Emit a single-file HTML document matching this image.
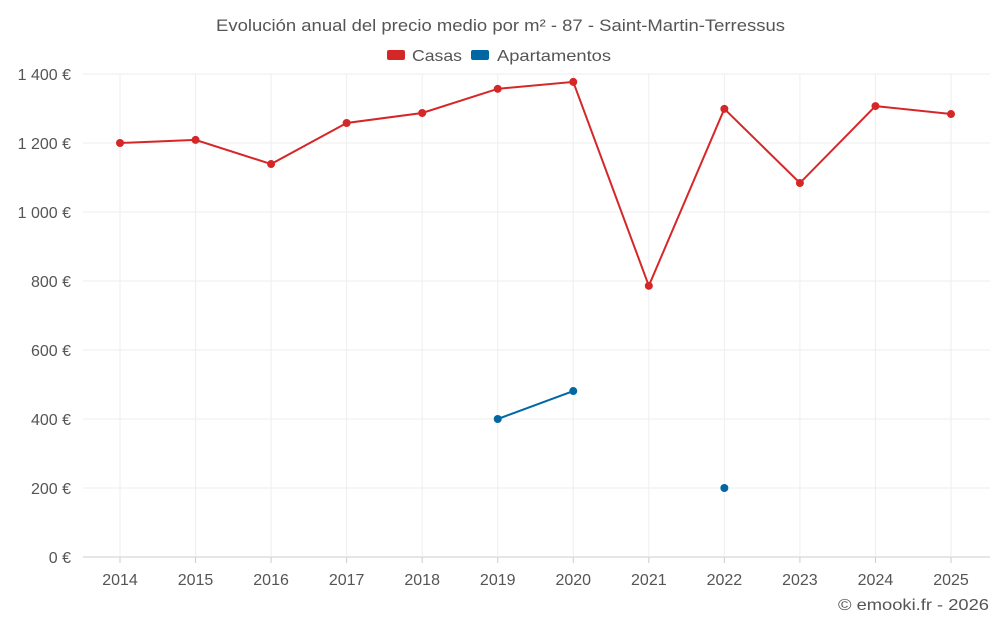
<!DOCTYPE html>
<html><head><meta charset="utf-8"><style>
body{margin:0;background:#fff;font-family:"Liberation Sans",sans-serif;}
svg text{font-family:"Liberation Sans",sans-serif;fill:#555;}
</style></head><body>
<svg id="chart" width="1000" height="625">
<text x="216" y="31" font-size="17" textLength="569" lengthAdjust="spacingAndGlyphs">Evolución anual del precio medio por m² - 87 - Saint-Martin-Terressus</text>
<g>
<g><rect x="387" y="50" width="18" height="10" rx="2" fill="#d62728"/><text x="412" y="61" font-size="16" textLength="50" lengthAdjust="spacingAndGlyphs">Casas</text></g>
<g><rect x="471" y="50" width="18" height="10" rx="2" fill="#0067a5"/><text x="497" y="61" font-size="16" textLength="114" lengthAdjust="spacingAndGlyphs">Apartamentos</text></g>
</g>
<g id="grid"></g><g id="axes"></g><g id="series"></g>
<text x="838" y="610" font-size="16" textLength="151" lengthAdjust="spacingAndGlyphs">© emooki.fr - 2026</text>
</svg>
<script>
const years=[2014,2015,2016,2017,2018,2019,2020,2021,2022,2023,2024,2025];
const casas=[1200,1209,1139,1258,1287,1357,1377,786,1299,1084,1307,1284];
const apartamentos=[null,null,null,null,null,400,481,null,200,null,null,null];
const yTicks=[0,200,400,600,800,1000,1200,1400];
const yLabels=["0 €","200 €","400 €","600 €","800 €","1 000 €","1 200 €","1 400 €"];
const NS="http://www.w3.org/2000/svg";
const x0=83,x1=990,yb=557,yt=74;
const xs=i=>120+i*(951-120)/(years.length-1);
const ys=v=>yb-(v/1400)*(yb-yt);
function mk(t,a,p){const e=document.createElementNS(NS,t);for(const k in a)e.setAttribute(k,a[k]);p.appendChild(e);return e;}
const g=document.getElementById('grid'),ax=document.getElementById('axes'),s=document.getElementById('series');
yTicks.forEach((v,i)=>{
 const l=mk('line',{x1:x0,x2:x1,y1:ys(v),y2:ys(v),stroke:i==0?'#ccc':'#eee'},g);
 
 
 const t=mk('text',{x:71,y:ys(v)+6,'text-anchor':'end','font-size':16},ax);t.textContent=yLabels[i];
 
 
});
years.forEach((y,i)=>{
 const l=mk('line',{x1:xs(i),x2:xs(i),y1:yt,y2:yb,stroke:'#eee'},g);
 
 
 const k=mk('line',{x1:xs(i),x2:xs(i),y1:yb,y2:yb+6,stroke:'#ccc'},ax);
 
 
 const t=mk('text',{x:xs(i),y:585,'text-anchor':'middle','font-size':16},ax);t.textContent=y;
 
 
});
function draw(data,color,name){
 let seg=[];const segs=[];
 data.forEach((v,i)=>{if(v==null){if(seg.length)segs.push(seg);seg=[];}else seg.push([xs(i),ys(v)]);});
 if(seg.length)segs.push(seg);
 segs.forEach(sg=>{if(sg.length>1){const p=mk('polyline',{points:sg.map(p=>p.join(',')).join(' '),fill:'none',stroke:color,'stroke-width':2},s);
  
  }});
 data.forEach((v,i)=>{if(v==null)return;const c=mk('circle',{cx:xs(i),cy:ys(v),r:4,fill:color},s);
  
  });
}
draw(casas,'#d62728','casas');
draw(apartamentos,'#0067a5','apartamentos');
</script>
</body></html>
